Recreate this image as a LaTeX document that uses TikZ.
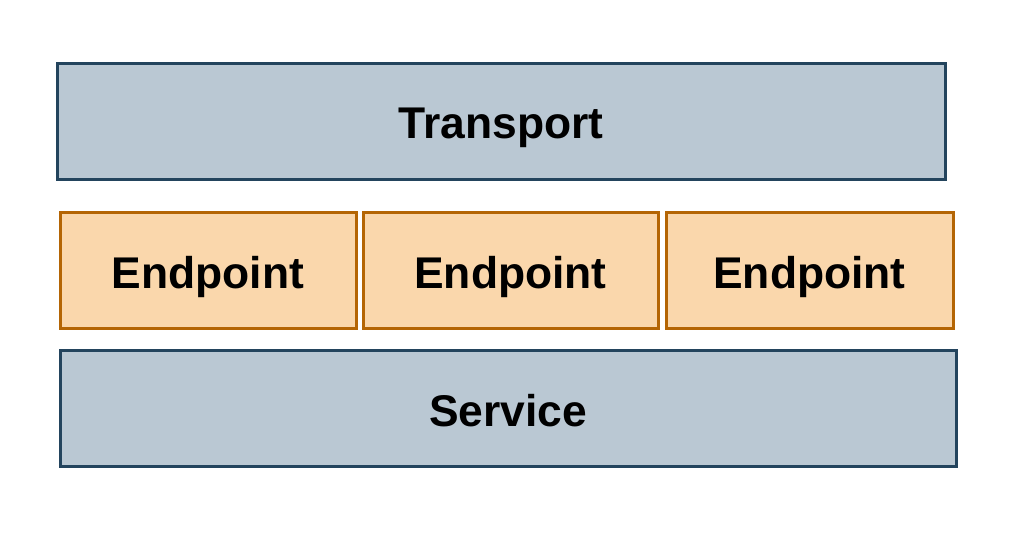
\documentclass[tikz,border=0pt]{standalone}
\usepackage{fontspec}
\setmainfont{Liberation Sans}
\definecolor{slatefill}{HTML}{BAC8D3}
\definecolor{slatedraw}{HTML}{23445D}
\definecolor{orangefill}{HTML}{FAD7AC}
\definecolor{orangedraw}{HTML}{B46504}
\begin{document}
\begin{tikzpicture}[x=0.5pt,y=-0.5pt,
  layer/.style={draw=slatedraw,fill=slatefill,line width=1.5pt,rectangle,inner sep=0pt,
    font=\fontsize{22.2}{26}\selectfont\bfseries,text depth=0pt},
  endpt/.style={draw=orangedraw,fill=orangefill,line width=1.5pt,rectangle,inner sep=0pt,
    font=\fontsize{22.2}{26}\selectfont\bfseries,text depth=0pt}]
\useasboundingbox[fill=white] (0,0) rectangle (1024,538);
\node[layer,minimum width=444pt,minimum height=58pt] (transport) at (501,121) {\raisebox{-2pt}{Transport}};
\node[endpt,minimum width=148pt,minimum height=58pt] (ep1) at (208,270) {\raisebox{-2pt}{Endpoint}};
\node[endpt,minimum width=147.5pt,minimum height=58pt] (ep2) at (510.5,270) {\raisebox{-2pt}{Endpoint}};
\node[endpt,minimum width=143.5pt,minimum height=58pt] (ep3) at (809.5,270) {\raisebox{-2pt}{Endpoint}};
\node[layer,minimum width=448pt,minimum height=58pt] (service) at (508,408) {\raisebox{-2pt}{Service}};
\end{tikzpicture}
\end{document}
